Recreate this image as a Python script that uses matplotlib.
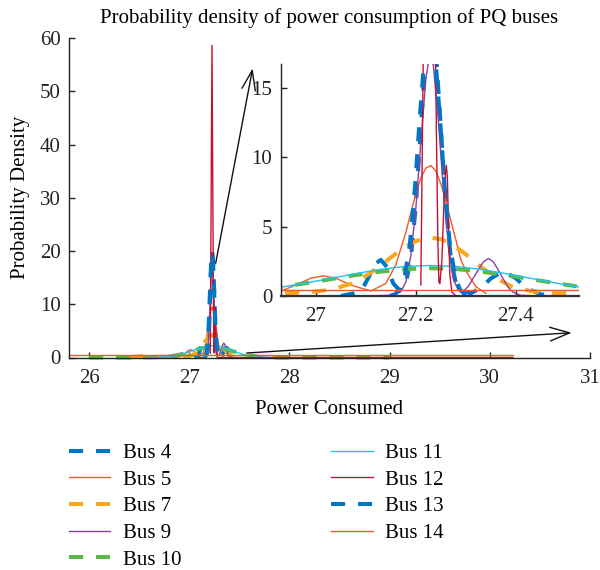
import matplotlib
matplotlib.use("Agg")
import matplotlib.pyplot as plt

plt.rcParams['font.family'] = ['Liberation Serif', 'DejaVu Serif']
plt.rcParams['font.size'] = 15

# ---- data ----
labels = ["Bus 4", "Bus 5", "Bus 7", "Bus 9", "Bus 10",
          "Bus 11", "Bus 12", "Bus 13", "Bus 14"]

bus4_x = [27.05, 27.09, 27.105, 27.118, 27.13, 27.142, 27.155, 27.165, 27.18, 27.19,
          27.20, 27.21, 27.22, 27.23, 27.24, 27.25, 27.26, 27.27, 27.28, 27.295,
          27.31, 27.33, 27.35, 27.375, 27.40, 27.42, 27.45, 27.50]
bus4_y = [0.0, 0.3, 1.3, 2.3, 2.6, 2.1, 0.9, 0.5, 0.9, 2.7,
          6.5, 12.1, 17.6, 20.0, 17.6, 12.1, 6.5, 2.7, 0.9, 0.3,
          0.2, 0.58, 1.27, 1.8, 1.27, 0.58, 0.12, 0.0]

bus5_x = [26.80, 26.86, 26.90, 26.93, 26.96, 26.99, 27.015, 27.04, 27.07, 27.11,
          27.14, 27.16, 27.18, 27.19, 27.20, 27.21, 27.22, 27.23, 27.24, 27.25,
          27.26, 27.27, 27.28, 27.29, 27.30, 27.32, 27.34]
bus5_y = [0.02, 0.01, 0.10, 0.34, 0.79, 1.28, 1.45, 1.28, 0.79, 0.36,
          0.90, 2.24, 4.58, 5.99, 7.36, 8.50, 9.21, 9.39, 8.99, 8.08,
          6.83, 5.42, 4.04, 2.60, 1.80, 0.67, 0.19]

bus7_x = [26.40, 26.55, 26.70, 26.85, 26.93, 26.98, 27.03, 27.07, 27.10, 27.13,
          27.16, 27.19, 27.21, 27.23, 27.25, 27.27, 27.30, 27.33, 27.36, 27.39,
          27.43, 27.48, 27.53, 27.70, 28.00]
bus7_y = [0.0, 0.3, 0.1, 0.2, 0.2, 0.25, 0.45, 0.88, 1.44, 2.2,
          3.05, 3.78, 4.09, 4.2, 4.09, 3.78, 3.0, 2.1, 1.3, 0.7,
          0.35, 0.2, 0.2, 0.1, 0.0]

bus9_x = [27.10, 27.15, 27.17, 27.18, 27.19, 27.20, 27.21, 27.22, 27.228, 27.235,
          27.245, 27.255, 27.265, 27.275, 27.285, 27.295, 27.305, 27.315, 27.325, 27.335,
          27.345, 27.355, 27.365, 27.375, 27.385, 27.395, 27.41, 27.45]
bus9_y = [0.0, 0.05, 0.3, 1.0, 2.9, 6.3, 11.1, 15.6, 17.5, 16.6,
          12.6, 7.7, 3.7, 1.2, 0.4, 0.35, 0.7, 1.3, 1.9, 2.45,
          2.7, 2.45, 1.85, 1.2, 0.6, 0.25, 0.05, 0.0]

bus10_x = [26.00, 26.50, 26.70, 26.80, 26.88, 26.93, 26.98, 27.03, 27.08, 27.13,
           27.18, 27.23, 27.28, 27.33, 27.38, 27.43, 27.48, 27.53, 27.58, 27.63,
           27.73, 27.85, 28.00, 28.50, 29.00]
bus10_y = [0.0, 0.0, 0.06, 0.2, 0.43, 0.65, 0.92, 1.21, 1.51, 1.76,
           1.94, 2.0, 1.94, 1.76, 1.51, 1.21, 0.92, 0.65, 0.43, 0.27,
           0.09, 0.02, 0.0, 0.0, 0.0]

bus11_x = [26.60, 26.70, 26.80, 26.88, 26.93, 26.98, 27.03, 27.08, 27.13, 27.18,
           27.23, 27.28, 27.33, 27.38, 27.43, 27.48, 27.53, 27.58, 27.63, 27.70,
           27.80]
bus11_y = [0.01, 0.045, 0.17, 0.40, 0.63, 0.93, 1.27, 1.61, 1.92, 2.13,
           2.2, 2.13, 1.92, 1.61, 1.27, 0.93, 0.63, 0.40, 0.24, 0.10,
           0.02]

bus12_x = [27.210, 27.227, 27.241, 27.244, 27.246, 27.248, 27.252, 27.256, 27.259, 27.261,
           27.263, 27.265, 27.268, 27.272, 27.280, 30.23]
bus12_y = [0.8, 58.6, 12.0, 4.0, 1.0, 0.9, 2.5, 6.5, 8.8, 9.4,
           8.5, 5.5, 1.5, 0.3, 0.0, 0.0]

bus13_x = [27.148, 27.158, 27.168, 27.178, 27.188, 27.198, 27.208, 27.218, 27.228, 27.238,
           27.248, 27.258, 27.268, 27.278, 27.288, 27.298, 27.308]
bus13_y = [0.02, 0.12, 0.47, 1.48, 3.7, 7.7, 12.9, 17.6, 19.5, 17.6,
           12.9, 7.7, 3.7, 1.48, 0.47, 0.12, 0.02]

bus14_x = [25.80, 30.23]
bus14_y = [0.45, 0.45]

main_xticks = [26, 27, 28, 29, 30, 31]
main_yticks = [0, 10, 20, 30, 40, 50, 60]
inset_xticks = [27.0, 27.2, 27.4]
inset_xticklabels = ["27", "27.2", "27.4"]
inset_yticks = [0, 5, 10, 15]

# ---- styles ----
C_BLUE = "#0077C4"
C_ORANGE = "#F05A28"
C_YELLOW = "#F7A91B"
C_PURPLE = "#8B3FA6"
C_GREEN = "#5BB947"
C_CYAN = "#1EC3EE"
C_RED = "#C8102E"
DASH = (0, (3.5, 3.2))
LW_D = 2.9
LW_S = 1.0

series = [
    (bus4_x, bus4_y, C_BLUE, DASH, LW_D),
    (bus5_x, bus5_y, C_ORANGE, "-", LW_S),
    (bus7_x, bus7_y, C_YELLOW, DASH, LW_D),
    (bus9_x, bus9_y, C_PURPLE, "-", LW_S),
    (bus10_x, bus10_y, C_GREEN, DASH, LW_D),
    (bus11_x, bus11_y, C_CYAN, "-", LW_S),
    (bus12_x, bus12_y, C_RED, "-", LW_S),
    (bus13_x, bus13_y, C_BLUE, DASH, LW_D),
    (bus14_x, bus14_y, C_ORANGE, "-", LW_S),
]

W, H = 600, 570
FS = 15
fig = plt.figure(figsize=(W / 100, H / 100), dpi=100)

# main axes
ax = fig.add_axes([69 / W, 1 - 357.5 / H, (590 - 69) / W, (357.5 - 38) / H])
handles = []
for (x, y, c, ls, lw), lab in zip(series, labels):
    ln, = ax.plot(x, y, color=c, linestyle=ls, linewidth=lw, label=lab, clip_on=False)
    handles.append(ln)
ax.set_xlim(25.8, 31)
ax.set_ylim(0, 60)
ax.set_xticks(main_xticks)
ax.set_yticks(main_yticks)
for s in ["top", "right"]:
    ax.spines[s].set_visible(False)
for s in ["left", "bottom"]:
    ax.spines[s].set_color("#222222")
    ax.spines[s].set_linewidth(1.0)
ax.tick_params(direction="in", length=4, width=1.0, colors="#222222", labelsize=FS)
ax.tick_params(axis="x", pad=8)
ax.tick_params(axis="y", pad=6)
ax.set_title("Probability density of power consumption of PQ buses", fontsize=FS, pad=11)
ax.set_xlabel("Power Consumed", fontsize=FS, labelpad=9)
ax.set_ylabel("Probability Density", fontsize=FS, labelpad=7)

# zoom arrows
arrow_kw = dict(arrowstyle="->,head_length=1.0,head_width=0.35", color="#111111",
                lw=1.0, mutation_scale=14, shrinkA=0, shrinkB=0)
ax.annotate("", xy=(27.633, 54.3), xytext=(27.264, 17.7), arrowprops=arrow_kw,
            annotation_clip=False)
ax.annotate("", xy=(30.817, 4.65), xytext=(27.573, 0.84), arrowprops=arrow_kw,
            annotation_clip=False)

# inset axes
ins = fig.add_axes([280.7 / W, 1 - 296 / H, (579 - 280.7) / W, (296 - 64) / H])
for (x, y, c, ls, lw) in series:
    ins.plot(x, y, color=c, linestyle=ls, linewidth=lw)
ins.set_xlim(26.93, 27.526)
ins.set_ylim(0, 16.7)
ins.set_xticks(inset_xticks)
ins.set_xticklabels(inset_xticklabels)
ins.set_yticks(inset_yticks)
for s in ["top", "right"]:
    ins.spines[s].set_visible(False)
ins.spines["left"].set_color("#222222")
ins.spines["bottom"].set_color("#333333")
ins.spines["left"].set_linewidth(1.0)
ins.spines["bottom"].set_linewidth(1.6)
ins.tick_params(direction="in", length=4, width=1.0, colors="#222222", labelsize=FS)
ins.tick_params(axis="x", pad=8)
ins.tick_params(axis="y", pad=6)

# legend
fig.legend(handles, labels, loc="upper left", bbox_to_anchor=(69 / W, 1 - 443.5 / H),
           ncol=2, frameon=False, fontsize=FS, handlelength=1.97, handletextpad=0.62,
           columnspacing=7.2, labelspacing=0.34, borderpad=0, borderaxespad=0)

fig.savefig("out.png", dpi=100)
